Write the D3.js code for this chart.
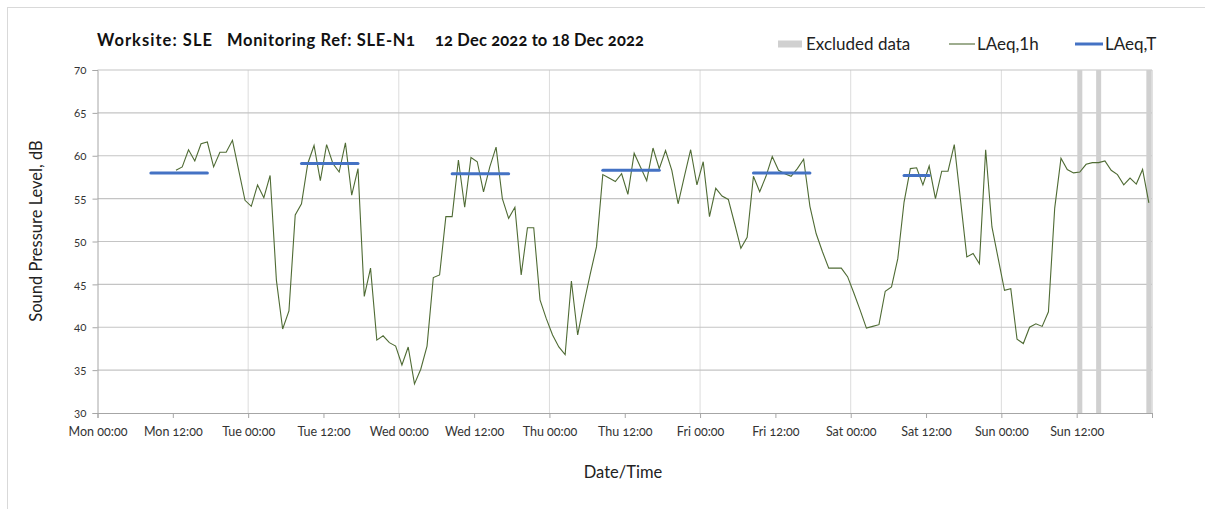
<!DOCTYPE html>
<html>
  <body style="margin:0;background:#fff">
    <style>
      text { font-family: Lato, "Open Sans", sans-serif; fill: #222; }
      .num { font-variant-numeric: oldstyle-nums; font-feature-settings: "onum"; }
    </style>
    <script src="https://d3js.org/d3.v7.min.js"></script>
    <script>
      const width = 1205;
      const height = 509;

      const titleParts = ['Worksite: SLE', 'Monitoring Ref: SLE-N1', '12 Dec 2022 to 18 Dec 2022'];
      const tickLabels = ['Mon 00:00', 'Mon 12:00', 'Tue 00:00', 'Tue 12:00', 'Wed 00:00', 'Wed 12:00',
        'Thu 00:00', 'Thu 12:00', 'Fri 00:00', 'Fri 12:00', 'Sat 00:00', 'Sat 12:00', 'Sun 00:00', 'Sun 12:00', ''];
      const yTicks = [30, 35, 40, 45, 50, 55, 60, 65, 70];

      // hourly LAeq,1h, first value is Mon 12:00-13:00
      const firstHour = 12;
      const laeq1h = [
        58.3, 58.7, 60.7, 59.4, 61.4, 61.6, 58.7, 60.4, 60.4, 61.8, 58.3, 54.8,
        54.1, 56.6, 55.1, 57.7, 45.5, 39.8, 41.9, 53.1, 54.4, 59.1, 61.2, 57.1,
        61.3, 59.1, 58.1, 61.5, 55.4, 58.5, 43.6, 46.9, 38.5, 39.0, 38.2, 37.8,
        35.6, 37.7, 33.4, 35.1, 37.8, 45.8, 46.1, 52.9, 52.9, 59.5, 54.0, 59.8,
        59.3, 55.8, 58.7, 61.0, 55.0, 52.7, 54.0, 46.1, 51.6, 51.6, 43.2, 41.0,
        39.1, 37.7, 36.8, 45.4, 39.1, 42.8, 46.2, 49.4, 57.8, 57.4, 57.0, 57.9,
        55.5, 60.3, 58.7, 57.1, 60.9, 58.5, 60.6, 58.3, 54.4, 57.6, 60.7, 56.6,
        59.3, 52.9, 56.2, 55.3, 54.9, 52.1, 49.2, 50.5, 57.6, 55.8, 57.6, 59.9,
        58.3, 57.9, 57.6, 58.5, 59.6, 54.1, 50.9, 48.8, 46.9, 46.9, 46.9, 45.9,
        44.0, 42.0, 39.9, 40.1, 40.3, 44.2, 44.7, 48.0, 54.6, 58.5, 58.6, 56.6,
        58.8, 55.0, 58.2, 58.2, 61.3, 54.8, 48.2, 48.6, 47.4, 60.7, 51.7, 48.0,
        44.3, 44.5, 38.6, 38.1, 40.0, 40.4, 40.1, 41.8, 53.9, 59.7, 58.4, 58.0,
        58.1, 59.0, 59.2, 59.2, 59.4, 58.3, 57.8, 56.6, 57.4, 56.7, 58.4, 54.5
      ];

      // LAeq,T over working hours: [startHour, endHour, value]
      const laeqT = [
        [8, 18, 58.0],
        [32, 42, 59.1],
        [56, 66, 57.9],
        [80, 90, 58.3],
        [104, 114, 58.0],
        [128, 133, 57.7]
      ];

      const excludedHours = [156, 159, 167];

      const margin = { left: 97.5, right: 1152, top: 70, bottom: 413 };

      const x = d3.scaleLinear().domain([0, 168]).range([margin.left, margin.right]);
      const y = d3.scaleLinear().domain([30, 70]).range([margin.bottom, margin.top]);

      const svg = d3.select('body').append('svg')
        .attr('width', width)
        .attr('height', height);

      // outer chart border
      svg.append('rect')
        .attr('x', 7.5).attr('y', 7.5)
        .attr('width', width).attr('height', height)
        .attr('fill', 'none')
        .attr('stroke', '#d9d9d9');

      // gridlines
      svg.append('g')
        .selectAll('line')
        .data(d3.range(24, 168, 24))
        .join('line')
        .attr('x1', (d) => x(d)).attr('x2', (d) => x(d))
        .attr('y1', y(70)).attr('y2', y(30))
        .attr('stroke', '#dcdcdc');

      svg.append('g')
        .selectAll('line')
        .data(yTicks.slice(1))
        .join('line')
        .attr('x1', x(0)).attr('x2', x(168))
        .attr('y1', (d) => y(d)).attr('y2', (d) => y(d))
        .attr('stroke', '#c4c4c4')
        .attr('stroke-width', 1.2);

      // right border of plot
      svg.append('line')
        .attr('x1', x(168)).attr('x2', x(168))
        .attr('y1', y(70)).attr('y2', y(30))
        .attr('stroke', '#c4c4c4');

      // excluded data bars
      svg.append('g')
        .selectAll('rect')
        .data(excludedHours)
        .join('rect')
        .attr('x', (d) => x(d + 0.1))
        .attr('width', (d) => x(d + 0.9) - x(d + 0.1))
        .attr('y', y(70))
        .attr('height', y(30) - y(70))
        .attr('fill', '#d0d0d0');

      // axes
      const xAxis = svg.append('g')
        .attr('transform', `translate(0,${y(30)})`)
        .call(d3.axisBottom(x)
          .tickValues(d3.range(0, 169, 12))
          .tickFormat((d, i) => tickLabels[i])
          .tickSize(5)
          .tickPadding(9));
      xAxis.select('.domain').attr('stroke', '#a6a6a6');
      xAxis.selectAll('.tick line').attr('stroke', '#a6a6a6');
      xAxis.selectAll('.tick text')
        .attr('class', 'num')
        .style('font-size', '12.5px')
        .style('fill', '#333');

      const yAxis = svg.append('g')
        .attr('transform', `translate(${x(0)},0)`)
        .call(d3.axisLeft(y)
          .tickValues(yTicks)
          .tickSize(5)
          .tickPadding(6));
      yAxis.select('.domain').attr('stroke', '#a6a6a6');
      yAxis.selectAll('.tick line').attr('stroke', '#a6a6a6');
      yAxis.selectAll('.tick text')
        .attr('class', 'num')
        .style('font-size', '11.5px')
        .style('fill', '#333');

      // LAeq,1h line
      const line = d3.line()
        .x((d, i) => x(firstHour + i + 0.5))
        .y((d) => y(d));

      svg.append('path')
        .datum(laeq1h)
        .attr('d', line)
        .attr('fill', 'none')
        .attr('stroke', '#4f6b34')
        .attr('stroke-width', 1.1);

      // LAeq,T lines
      svg.append('g')
        .selectAll('line')
        .data(laeqT)
        .join('line')
        .attr('x1', (d) => x(d[0] + 0.5))
        .attr('x2', (d) => x(d[1] - 0.5))
        .attr('y1', (d) => y(d[2]))
        .attr('y2', (d) => y(d[2]))
        .attr('stroke', '#4472c4')
        .attr('stroke-width', 3)
        .attr('stroke-linecap', 'round');

      // title (fitted to the widths in the original)
      const titleX = [97, 227, 435];
      const titleW = [115, 188, 209];
      svg.append('g')
        .selectAll('text')
        .data(titleParts)
        .join('text')
        .attr('class', 'num')
        .attr('x', (d, i) => titleX[i])
        .attr('y', 46)
        .attr('textLength', (d, i) => titleW[i])
        .attr('lengthAdjust', 'spacing')
        .style('font-size', '16.5px')
        .style('font-weight', 'bold')
        .style('fill', '#111')
        .text((d) => d);

      // legend
      const legend = svg.append('g');
      legend.append('rect')
        .attr('x', 778).attr('y', 40.5).attr('width', 24).attr('height', 7)
        .attr('fill', '#d0d0d0');
      legend.append('text')
        .attr('x', 806).attr('y', 50)
        .style('font-size', '17px')
        .text('Excluded data');
      legend.append('line')
        .attr('x1', 949).attr('x2', 975).attr('y1', 44).attr('y2', 44)
        .attr('stroke', '#4f6b34').attr('stroke-width', 1.1);
      legend.append('text')
        .attr('x', 977).attr('y', 50)
        .style('font-size', '17px')
        .text('LAeq,1h');
      legend.append('line')
        .attr('x1', 1075).attr('x2', 1103).attr('y1', 44).attr('y2', 44)
        .attr('stroke', '#4472c4').attr('stroke-width', 3);
      legend.append('text')
        .attr('x', 1105).attr('y', 50)
        .style('font-size', '17px')
        .text('LAeq,T');

      // axis titles
      svg.append('text')
        .attr('x', 623).attr('y', 478)
        .attr('text-anchor', 'middle')
        .style('font-size', '16.5px')
        .text('Date/Time');

      svg.append('text')
        .attr('transform', 'translate(42,231) rotate(-90)')
        .attr('text-anchor', 'middle')
        .style('font-size', '16.5px')
        .text('Sound Pressure Level, dB');
    </script>
  </body>
</html>
